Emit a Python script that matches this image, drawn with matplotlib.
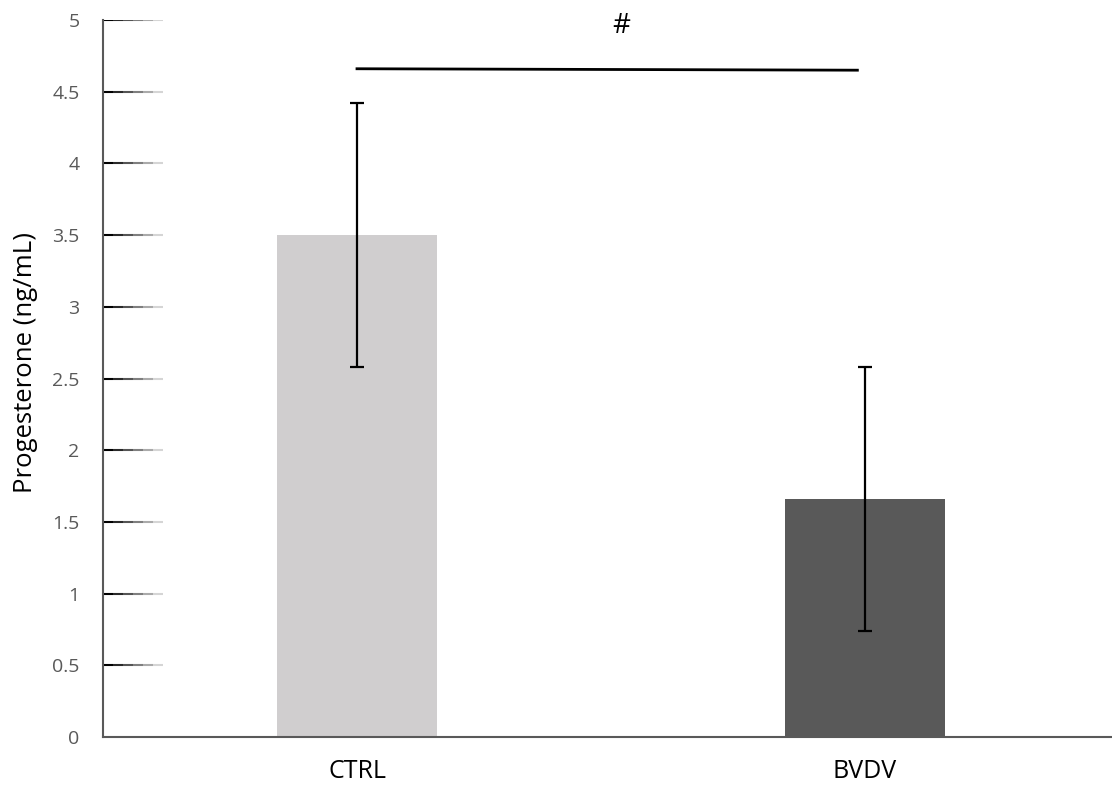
import numpy as np
import matplotlib.pyplot as plt
from matplotlib.collections import LineCollection
import matplotlib.transforms as mtransforms

groups = ["CTRL", "BVDV"]
means = [3.5, 1.66]
errors = [0.92, 0.92]
bar_colors = ["#d0cecf", "#595959"]
yticks = [0, 0.5, 1, 1.5, 2, 2.5, 3, 3.5, 4, 4.5, 5]
ytick_labels = ["0", "0.5", "1", "1.5", "2", "2.5", "3", "3.5", "4", "4.5", "5"]
sig_y = [4.66, 4.65]
sig_mark = "#"

plt.rcParams["font.family"] = ["Open Sans", "DejaVu Sans"]

fig = plt.figure(figsize=(11.12, 7.96), dpi=100)
ax = fig.add_axes([103/1112, 1 - 737/796, 1016/1112, 717/796])

xs = np.arange(len(groups))
ax.bar(xs, means, width=0.315, color=bar_colors, zorder=2)
ax.errorbar(xs, means, yerr=errors, fmt="none", ecolor="black",
            elinewidth=1.6, capsize=5, capthick=1.6, zorder=3)

ax.set_xlim(-0.5, 1.5)
ax.set_ylim(0, 5)
ax.set_xticks(xs)
ax.set_xticklabels(groups, fontsize=18, color="black")
ax.set_yticks(yticks)
ax.set_yticklabels(ytick_labels, fontsize=14, color="#595959")
ax.tick_params(axis="x", length=0, pad=16)
ax.tick_params(axis="y", length=0, pad=17)

for s in ["top", "right"]:
    ax.spines[s].set_visible(False)
for s in ["left", "bottom"]:
    ax.spines[s].set_color("#595959")
    ax.spines[s].set_linewidth(1.5)

# fading tick marks like the original
trans = mtransforms.blended_transform_factory(ax.transAxes, ax.transData)
n_seg = 6
seg_len = 0.059 / n_seg
for t in yticks[1:]:
    segs = [[(i * seg_len, t), ((i + 1) * seg_len, t)] for i in range(n_seg)]
    shades = [(0, 0, 0, 1 - i / n_seg) for i in range(n_seg)]
    ax.add_collection(LineCollection(segs, colors=shades, linewidths=1.5,
                                     transform=trans, zorder=1))

ax.plot([xs[0], xs[1] - 0.015], sig_y, color="black", lw=2, zorder=3)
ax.text(0.52, 4.96, sig_mark, ha="center", va="center", fontsize=20)

ax.set_ylabel("Progesterone (ng/mL)", fontsize=18.5)
ax.yaxis.set_label_coords(-0.064, 0.523)

fig.savefig("out.png", dpi=100)
